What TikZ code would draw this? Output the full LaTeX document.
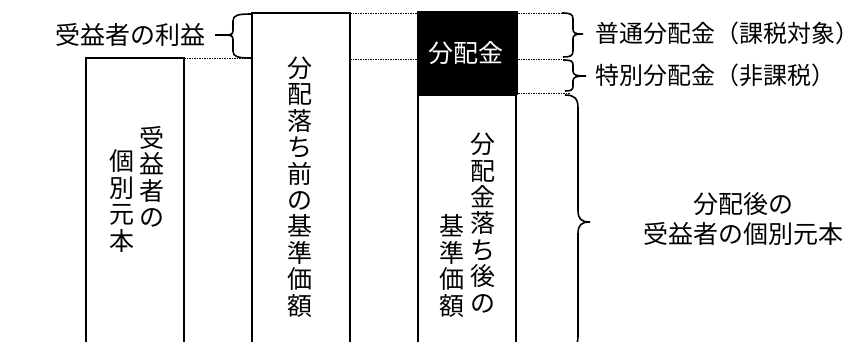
\documentclass[tikz,border=0pt]{standalone}
\usepackage{fontspec}
\newfontfamily\jp{Noto Sans CJK JP}
\begin{document}
\begin{tikzpicture}[x=1pt,y=-1pt,
  boxline/.style={line width=1.5pt},
  dotline/.style={line width=1pt,dash pattern=on 1.5pt off 1pt},
  bracel/.style={line width=1.6pt},
  jptext/.style={font=\jp\fontsize{25}{30}\selectfont,inner sep=0pt},
  sidetext/.style={font=\jp\fontsize{24}{30}\selectfont,inner sep=0pt,anchor=west},
  vcol/.style={font=\jp\fontsize{25}{26.4}\selectfont,inner sep=0pt,align=center},
]
\useasboundingbox (0,0) rectangle (861,341);
\clip (0,0) rectangle (861,341);
% boxes
\draw[boxline] (86,350) -- (86,58) -- (184,58) -- (184,350);
\draw[boxline] (252,350) -- (252,13) -- (350,13) -- (350,350);
\fill (417,11) rectangle (518,95);
\draw[boxline] (418,350) -- (418,95) -- (516,95) -- (516,350);
% dotted guide lines
\draw[dotline] (184,58) -- (252,58);
\draw[dotline] (350,13) -- (417,13);
\draw[dotline] (350,59) -- (417,59);
\draw[dotline] (518,13) -- (563,13);
\draw[dotline] (518,59) -- (565,59);
\draw[dotline] (518,93) -- (570,93);
% left brace
\draw[bracel] (252,14) .. controls (238,14) and (233,15) .. (233,21) -- (233,30)
  .. controls (233,34) and (231,35) .. (228,35)
  .. controls (231,35) and (233,36) .. (233,40) -- (233,51)
  .. controls (233,57) and (238,58) .. (252,58);
\draw[bracel] (215,35) -- (228,35);
% right brace 1
\draw[bracel] (562,13) .. controls (570,13) and (573,14) .. (573,19) -- (573,29)
  .. controls (573,33) and (575,34) .. (583,34)
  .. controls (575,34) and (573,35) .. (573,39) -- (573,51)
  .. controls (573,56) and (570,57) .. (563,57);
% right brace 2
\draw[bracel] (563,60) .. controls (571,60) and (573,61) .. (573,65) -- (573,71)
  .. controls (573,75) and (576,76) .. (586,76)
  .. controls (576,76) and (573,77) .. (573,81) -- (573,86)
  .. controls (573,90) and (571,91) .. (565,91);
% right brace 3
\draw[bracel] (565,95) .. controls (574,95) and (578,98) .. (578,108) -- (578,210)
  .. controls (578,219) and (581,222) .. (590,222)
  .. controls (581,222) and (578,225) .. (578,234) -- (578,336)
  .. controls (578,346) and (574,349) .. (565,349);
% texts
\node[jptext,anchor=east] (rieki) at (206,35) {受益者の利益};
\node[sidetext] (futsu) at (595,33) {普通分配金（課税対象）};
\node[sidetext] (tokubetsu) at (595,75) {特別分配金（非課税）};
\node[jptext,align=center] (ato) at (743,219) {分配後の\\受益者の個別元本};
\node[jptext,text=white] (bunpai) at (466,53) {分配金};
\node[vcol] (c1a) at (152,177) {受\\益\\者\\の};
\node[vcol] (c1b) at (122,201) {個\\別\\元\\本};
\node[vcol] (c2) at (300,187) {分\\配\\落\\ち\\前\\の\\基\\準\\価\\額};
\node[vcol] (c3a) at (483,223) {分\\配\\金\\落\\ち\\後\\の};
\node[vcol] (c3b) at (452,266) {基\\準\\価\\額};
\end{tikzpicture}
\end{document}
